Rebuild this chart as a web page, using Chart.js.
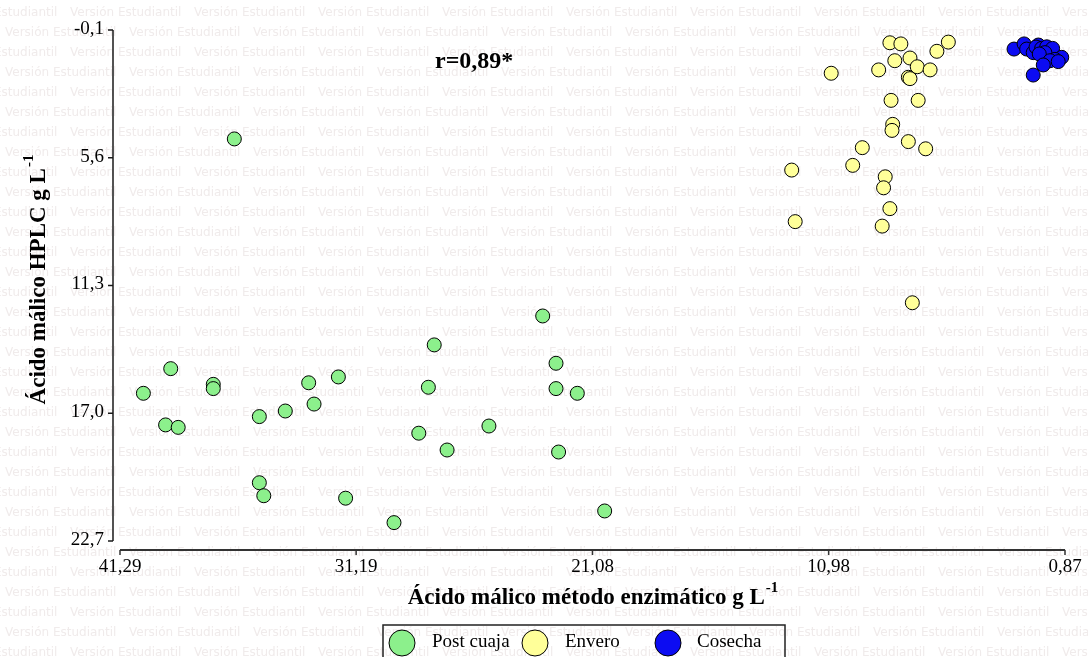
<!DOCTYPE html>
<html>
<head>
<meta charset="utf-8">
<script src="https://cdn.jsdelivr.net/npm/chart.js@4.4.1/dist/chart.umd.min.js"></script>
<style>
  html, body { margin: 0; padding: 0; background: #fff; }
  canvas { display: block; }
</style>
</head>
<body>
<canvas id="myChart" width="1088" height="657"></canvas>
<script>
// Ácido málico: método enzimático (x) vs HPLC (y), g L-1
var xTicks = [41.29, 31.19, 21.08, 10.98, 0.87];
var xTickLabels = ["41,29", "31,19", "21,08", "10,98", "0,87"];
var yTicks = [-0.1, 5.6, 11.3, 17.0, 22.7];
var yTickLabels = ["-0,1", "5,6", "11,3", "17,0", "22,7"];

var postX = [23.21, 27.85, 39.12, 22.64, 31.95, 33.22, 37.30, 37.30, 40.29, 28.10, 22.64, 21.73, 32.99, 34.22,
             35.33, 39.34, 38.80, 25.51, 28.51, 27.30, 22.53, 35.33, 35.14, 31.64, 20.56, 29.57, 36.40];
var postY = [12.66, 13.95, 15.01, 14.77, 15.38, 15.64, 15.71, 15.90, 16.11, 15.84, 15.90, 16.11, 16.59, 16.90,
             17.15, 17.52, 17.63, 17.57, 17.89, 18.64, 18.73, 20.10, 20.68, 20.79, 21.36, 21.88, 4.76];

var enveroX = [8.36, 7.89, 5.86, 6.35, 8.15, 7.50, 7.19, 6.64, 8.84, 10.87, 7.57, 7.50, 8.31, 7.15,
               8.24, 8.27, 7.57, 6.83, 9.54, 9.95, 12.56, 8.56, 8.63, 8.36, 12.41, 8.69, 7.40];
var enveroY = [0.47, 0.52, 0.44, 0.85, 1.27, 1.15, 1.54, 1.68, 1.68, 1.83, 2.01, 2.07, 3.04, 3.04,
               4.11, 4.38, 4.88, 5.20, 5.15, 5.94, 6.15, 6.45, 6.94, 7.87, 8.45, 8.65, 12.07];

var cosechaX = [3.05, 2.62, 2.51, 2.23, 2.01, 2.11, 1.87, 1.65, 1.40, 1.73, 1.97, 1.01, 1.30, 1.51, 1.16, 1.80, 2.23];
var cosechaY = [0.75, 0.52, 0.75, 0.91, 0.57, 0.66, 0.72, 0.65, 0.72, 0.91, 0.97, 1.12, 1.21, 1.27, 1.31, 1.46, 1.91];

var seriesNames = ["Post cuaja", "Envero", "Cosecha"];
var seriesColors = ["#8cf08c", "#ffff99", "#0c0cf2"];
var corrLabel = "r=0,89*";

function toPoints(xs, ys) {
    var pts = [];
    for (var i = 0; i < xs.length; i++) {
        pts.push({x: xs[i], y: ys[i]});
    }
    return pts;
}

var serif = "'Liberation Serif', 'Times New Roman', serif";

// faint repeated background text, axes drawn detached from the plot area, legend box at the bottom
var decor = {
    id: 'decor',
    beforeDraw: function(chart) {
        var ctx = chart.ctx;
        ctx.save();
        ctx.fillStyle = '#fff';
        ctx.fillRect(0, 0, chart.width, chart.height);
        ctx.font = "12px 'DejaVu Sans', sans-serif";
        ctx.fillStyle = '#f0ebeb';
        ctx.textBaseline = 'middle';
        ctx.textAlign = 'left';
        for (var k = 0; k * 20 + 13 < chart.height + 10; k++) {
            var y = 13 + k * 20;
            var start = (k % 2 === 0) ? -54 : 5;
            for (var x = start; x < chart.width; x += 124) {
                ctx.fillText("Versión Estudiantil", x, y);
            }
        }
        ctx.restore();
    },
    beforeDatasetsDraw: function(chart) {
        var ctx = chart.ctx;
        var xs = chart.scales.x, ys = chart.scales.y;
        var area = chart.chartArea;
        ctx.save();
        ctx.strokeStyle = '#1a1a1a';
        ctx.fillStyle = '#000';
        ctx.lineWidth = 1.5;

        // y axis
        var ax = area.left - 7;
        ctx.beginPath();
        ctx.moveTo(ax, ys.getPixelForValue(yTicks[0]));
        ctx.lineTo(ax, ys.getPixelForValue(yTicks[yTicks.length - 1]));
        ctx.stroke();
        ctx.font = "19px " + serif;
        ctx.textAlign = 'right';
        ctx.textBaseline = 'middle';
        yTicks.forEach(function(v, i) {
            var py = ys.getPixelForValue(v);
            ctx.beginPath();
            ctx.moveTo(ax - 5, py);
            ctx.lineTo(ax, py);
            ctx.stroke();
            ctx.fillText(yTickLabels[i], ax - 9, py - 1);
        });

        // x axis
        var ay = area.bottom + 9;
        ctx.lineWidth = 2;
        ctx.strokeStyle = '#333';
        ctx.beginPath();
        ctx.moveTo(xs.getPixelForValue(xTicks[0]), ay);
        ctx.lineTo(xs.getPixelForValue(xTicks[xTicks.length - 1]), ay);
        ctx.stroke();
        ctx.lineWidth = 1.5;
        ctx.textAlign = 'center';
        xTicks.forEach(function(v, i) {
            var px = xs.getPixelForValue(v);
            ctx.beginPath();
            ctx.moveTo(px, ay);
            ctx.lineTo(px, ay + 5);
            ctx.stroke();
            ctx.fillText(xTickLabels[i], px, ay + 17);
        });

        // axis titles with superscript
        ctx.textBaseline = 'alphabetic';
        ctx.textAlign = 'left';
        var xt = "Ácido málico método enzimático g L";
        ctx.font = "bold 23px " + serif;
        var w1 = ctx.measureText(xt).width;
        ctx.font = "bold 15px " + serif;
        var w2 = ctx.measureText("-1").width;
        var x0 = (area.left + area.right) / 2 - (w1 + w2) / 2;
        ctx.font = "bold 23px " + serif;
        ctx.fillText(xt, x0, 604);
        ctx.font = "bold 15px " + serif;
        ctx.fillText("-1", x0 + w1 + 1, 592);

        ctx.save();
        ctx.translate(45, 280);
        ctx.rotate(-Math.PI / 2);
        var yt = "Ácido málico HPLC g L";
        ctx.font = "bold 23px " + serif;
        var v1 = ctx.measureText(yt).width;
        ctx.font = "bold 15px " + serif;
        var v2 = ctx.measureText("-1").width;
        var y0 = -(v1 + v2) / 2;
        ctx.font = "bold 23px " + serif;
        ctx.fillText(yt, y0, 0);
        ctx.font = "bold 15px " + serif;
        ctx.fillText("-1", y0 + v1 + 1, -12);
        ctx.restore();

        // correlation
        ctx.font = "bold 24px " + serif;
        ctx.fillText(corrLabel, 435, 68);

        // legend
        ctx.lineWidth = 1.5;
        ctx.strokeStyle = '#222';
        ctx.strokeRect(383, 625, 402, 50);
        var cx = [402, 535, 668];
        var tx = [432, 565, 697];
        ctx.font = "19px " + serif;
        ctx.textBaseline = 'middle';
        chart.data.datasets.forEach(function(ds, i) {
            ctx.beginPath();
            ctx.arc(cx[i], 643, 13, 0, Math.PI * 2);
            ctx.fillStyle = ds.backgroundColor;
            ctx.fill();
            ctx.lineWidth = 1;
            ctx.strokeStyle = '#000';
            ctx.stroke();
            ctx.fillStyle = '#000';
            ctx.fillText(ds.label, tx[i], 642);
        });
        ctx.restore();
    }
};

var ctx = document.getElementById("myChart");
var myChart = new Chart(ctx, {
    type: 'scatter',
    data: {
        datasets: [{
            label: seriesNames[0],
            data: toPoints(postX, postY),
            backgroundColor: seriesColors[0]
        }, {
            label: seriesNames[1],
            data: toPoints(enveroX, enveroY),
            backgroundColor: seriesColors[1]
        }, {
            label: seriesNames[2],
            data: toPoints(cosechaX, cosechaY),
            backgroundColor: seriesColors[2]
        }]
    },
    options: {
        responsive: false,
        animation: false,
        layout: {
            padding: {left: 120, right: 23, top: 30, bottom: 116}
        },
        elements: {
            point: {
                radius: 7,
                borderWidth: 1,
                borderColor: '#000'
            }
        },
        datasets: {
            scatter: {clip: false}
        },
        scales: {
            x: {
                type: 'linear',
                min: 0.87,
                max: 41.29,
                reverse: true,
                display: false
            },
            y: {
                type: 'linear',
                min: -0.1,
                max: 22.7,
                reverse: true,
                display: false
            }
        },
        plugins: {
            legend: {display: false},
            tooltip: {enabled: false}
        }
    },
    plugins: [decor]
});
</script>
</body>
</html>
